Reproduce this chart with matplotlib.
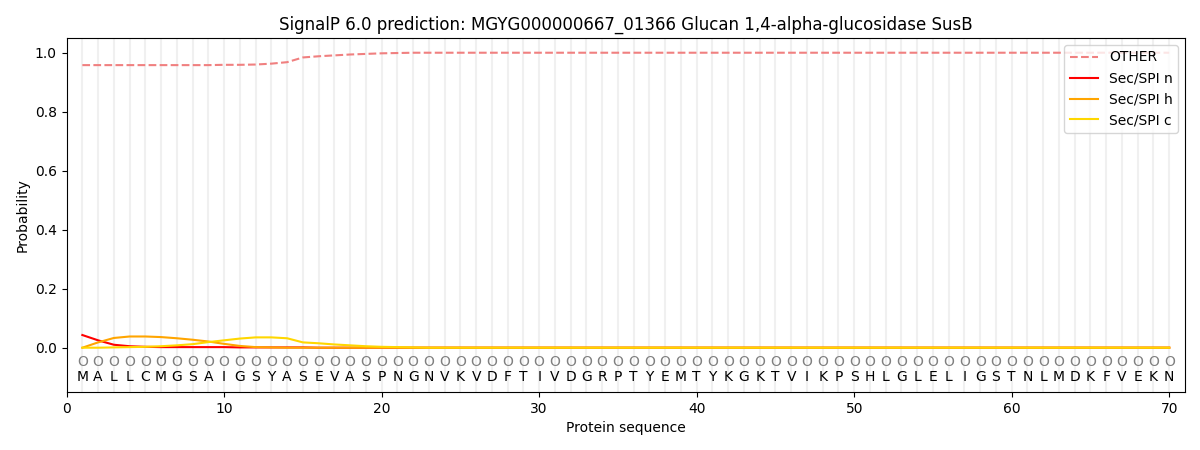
import numpy as np
import matplotlib
matplotlib.use("Agg")
import matplotlib.pyplot as plt

sequence = "MALLCMGSAIGSYASEVASPNGNVKVDFTIVDGRPTYEMTYKGKTVIKPSHLGLELIGSTNLMDKFVEKN"

other = [0.958, 0.958, 0.958, 0.958, 0.958, 0.958, 0.958, 0.958, 0.958, 0.959,
         0.959, 0.960, 0.963, 0.968, 0.984, 0.988, 0.991, 0.994, 0.996, 0.998,
         0.999] + [1.0] * 49
sp_n = [0.043, 0.025, 0.010, 0.005, 0.003, 0.002, 0.002, 0.002, 0.002, 0.002,
        0.001, 0.001, 0.001, 0.001, 0.001] + [0.0] * 55
sp_h = [0.0, 0.018, 0.033, 0.038, 0.038, 0.036, 0.032, 0.027, 0.021, 0.013,
        0.006, 0.002, 0.001] + [0.0] * 57
sp_c = [0.0, 0.0, 0.001, 0.002, 0.003, 0.005, 0.008, 0.012, 0.019, 0.025,
        0.031, 0.035, 0.035, 0.032, 0.018, 0.015, 0.011, 0.008, 0.005, 0.003,
        0.002, 0.001] + [0.0] * 48

pos = np.arange(1, len(sequence) + 1)

fig, ax = plt.subplots(figsize=(12, 4.5), dpi=100)
fig.subplots_adjust(left=0.0555, right=0.9875, top=0.9156, bottom=0.129)

for p in pos:
    ax.axvline(p, color="#f0f0f0", linewidth=1.5, zorder=0)

ax.plot(pos, other, "--", color="lightcoral", label="OTHER")
ax.plot(pos, sp_n, color="red", label="Sec/SPI n")
ax.plot(pos, sp_h, color="orange", label="Sec/SPI h")
ax.plot(pos, sp_c, color="gold", label="Sec/SPI c")

for p, aa in zip(pos, sequence):
    ax.text(p, -0.047, "O", ha="center", va="center", fontsize=10, color="gray")
    ax.text(p, -0.098, aa, ha="center", va="center", fontsize=10)

ax.set_xlim(0, 71)
ax.set_ylim(-0.15, 1.05)
ax.set_xlabel("Protein sequence")
ax.set_ylabel("Probability")
ax.set_title("SignalP 6.0 prediction: MGYG000000667_01366 Glucan 1,4-alpha-glucosidase SusB")
ax.legend(loc="upper right")

plt.savefig("out.png")
